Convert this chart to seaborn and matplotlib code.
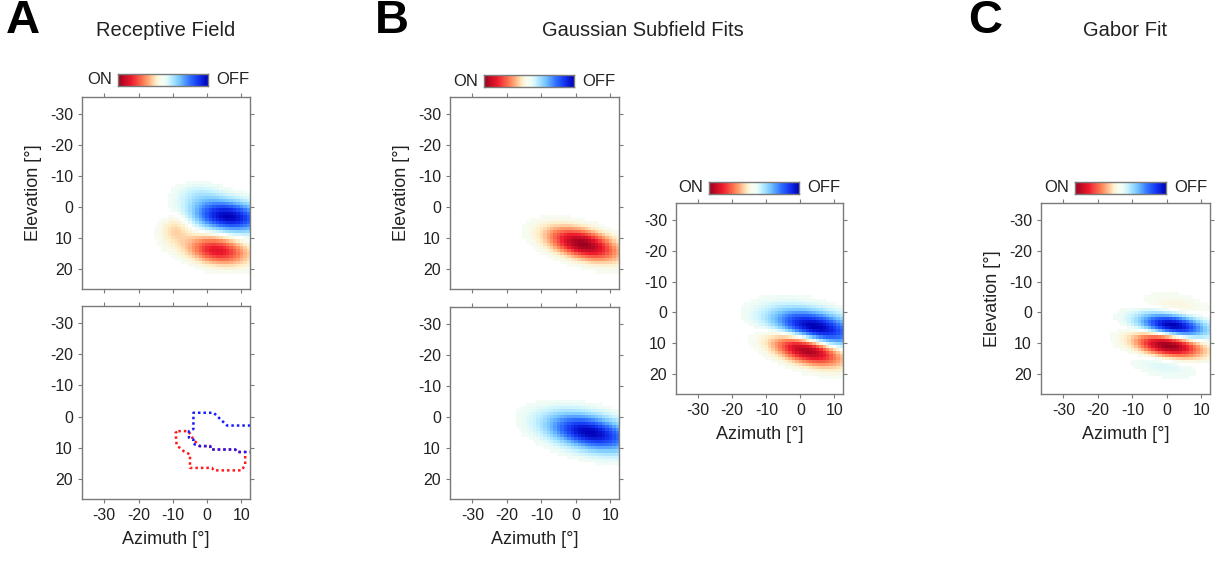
import numpy as np
import pandas as pd
import seaborn as sns
import matplotlib.pyplot as plt
from matplotlib.colors import LinearSegmentedColormap

# Visual field grid (1 deg pixels)
azimuth = np.arange(-36, 13)
elevation = np.arange(-35, 27)

az_ticks = [-30, -20, -10, 0, 10]
el_ticks = [-30, -20, -10, 0, 10, 20]

# Panel A: receptive field, described by its components (OFF > 0, ON < 0)
rf_amp = [1.0, -0.75, -0.22, 0.15]
rf_az = [6, 3, -9, -2]
rf_el = [3, 14, 7, -4]
rf_sig_major = [7.0, 6.0, 3.5, 4.5]
rf_sig_minor = [3.3, 3.0, 3.0, 2.5]
rf_angle = [8, 10, -60, 5]

# Panel A bottom: outlines of the ON / OFF subfields (OFF runs off the right edge)
off_outline_az = [12.6, 5.8, 1.9, -3.5, -4, -4, -5.3, -5.3, -4, -4, -2.2, 0.9, 1.1, 8.2, 8.7, 12.6]
off_outline_el = [2.9, 2.9, -1.2, -1.2, -1.2, 4, 4.7, 6.8, 7.4, 8.8, 9.5, 9.5, 10.6, 10.6, 11.4, 11.4]
on_outline_az = [-8.4, -5.5, -4, -2.2, 0.9, 1.1, 8.2, 8.7, 11.1, 11.1, 10.1, 1.9, 1.4, -5, -5, -6.9, -8.9, -9.2, -8.4]
on_outline_el = [4.7, 4.7, 7.4, 9.5, 9.5, 10.6, 10.6, 11.4, 11.4, 15.4, 17.3, 17.3, 16.5, 16.5, 12.2, 11.1, 9.2, 5.2, 4.7]

# Panel B: Gaussian subfield fits (ON, OFF)
sub_amp = [-1.0, 1.0]
sub_az = [2, 4]
sub_el = [12, 5]
sub_sig_major = [7.0, 8.5]
sub_sig_minor = [3.0, 3.6]
sub_angle = [17, 14]

# Panel C: Gabor fit
gabor_az = 1.0
gabor_el = 7.5
gabor_sig_major = 6.5
gabor_sig_minor = 5.0
gabor_angle = 10
gabor_wavelength = 17.0

cmap = LinearSegmentedColormap.from_list(
    "onoff",
    [
        (0.0, "#9c001f"),
        (0.15, "#ee1a2c"),
        (0.3, "#ff8a5a"),
        (0.42, "#ffedc4"),
        (0.47, "#f8fbf0"),
        (0.5, "#f4fdf4"),
        (0.53, "#eefcf6"),
        (0.58, "#c6f2ff"),
        (0.68, "#78c8ff"),
        (0.8, "#2f70ff"),
        (0.9, "#1232f0"),
        (1.0, "#0000b8"),
    ],
)

plt.rcParams["font.family"] = ["Liberation Sans", "DejaVu Sans"]
FRAME = "#7a7a7a"
TEXT = "#222222"


def rotated(cx, cy, angle):
    X, Y = np.meshgrid(azimuth, elevation)
    t = np.deg2rad(angle)
    xr = (X - cx) * np.cos(t) + (Y - cy) * np.sin(t)
    yr = -(X - cx) * np.sin(t) + (Y - cy) * np.cos(t)
    return xr, yr


def gauss2d(amp, cx, cy, s_major, s_minor, angle):
    xr, yr = rotated(cx, cy, angle)
    return amp * np.exp(-0.5 * (xr**2 / s_major**2 + yr**2 / s_minor**2))


def gabor2d(cx, cy, s_major, s_minor, angle, wavelength):
    xr, yr = rotated(cx, cy, angle)
    env = np.exp(-0.5 * (xr**2 / s_major**2 + yr**2 / s_minor**2))
    return -env * np.sin(2 * np.pi * yr / wavelength)


def to_col(az):
    return np.asarray(az) - azimuth[0] + 0.5


def to_row(el):
    return np.asarray(el) - elevation[0] + 0.5


def draw_field(ax, field, show_x=True, ylabel=None):
    if field is None:
        norm = np.zeros((len(elevation), len(azimuth)))
    else:
        norm = field / np.abs(field).max()
    df = pd.DataFrame(norm, index=elevation, columns=azimuth)
    mask = np.abs(norm) < 0.03
    sns.heatmap(df, ax=ax, cmap=cmap, vmin=-1, vmax=1, cbar=False, mask=mask,
                xticklabels=False, yticklabels=False)
    for s in ax.spines.values():
        s.set_visible(True)
        s.set_color(FRAME)
        s.set_linewidth(1.0)
    ax.set_xticks(to_col(az_ticks))
    ax.set_yticks(to_row(el_ticks))
    ax.set_yticklabels([str(t) for t in el_ticks], rotation=0)
    if show_x:
        ax.set_xticklabels([str(t) for t in az_ticks], rotation=0)
        ax.set_xlabel("Azimuth [°]", fontsize=13, color=TEXT, labelpad=6)
    else:
        ax.set_xticklabels([])
        ax.set_xlabel("")
    ax.set_ylabel(ylabel if ylabel else "", fontsize=13, color=TEXT, labelpad=6)
    ax.tick_params(direction="out", length=3, width=0.8, color=FRAME,
                   labelsize=11.5, labelcolor=TEXT, top=True, right=True)
    ax.set_xlim(0, len(azimuth))
    ax.set_ylim(len(elevation), 0)


def draw_cbar(fig, x0, y0, x1, y1):
    W, H = 1217, 561
    cax = fig.add_axes([x0 / W, 1 - y1 / H, (x1 - x0) / W, (y1 - y0) / H])
    sns.heatmap(np.linspace(-1, 1, 256)[None, :], ax=cax, cmap=cmap, vmin=-1, vmax=1,
                cbar=False, xticklabels=False, yticklabels=False)
    for s in cax.spines.values():
        s.set_visible(True)
        s.set_color(FRAME)
        s.set_linewidth(1.0)
    cax.tick_params(left=False, bottom=False)
    cax.text(-0.07, 0.5, "ON", transform=cax.transAxes, ha="right", va="center",
             fontsize=12, color=TEXT)
    cax.text(1.09, 0.5, "OFF", transform=cax.transAxes, ha="left", va="center",
             fontsize=12, color=TEXT)


def add_axes(fig, x0, y0, x1, y1):
    W, H = 1217, 561
    return fig.add_axes([x0 / W, 1 - y1 / H, (x1 - x0) / W, (y1 - y0) / H])


def main():
    fig = plt.figure(figsize=(12.17, 5.61), dpi=100)

    rf = sum(gauss2d(a, x, y, s1, s2, t) for a, x, y, s1, s2, t in
             zip(rf_amp, rf_az, rf_el, rf_sig_major, rf_sig_minor, rf_angle))
    on_fit = gauss2d(sub_amp[0], sub_az[0], sub_el[0], sub_sig_major[0], sub_sig_minor[0], sub_angle[0])
    off_fit = gauss2d(sub_amp[1], sub_az[1], sub_el[1], sub_sig_major[1], sub_sig_minor[1], sub_angle[1])
    gabor = gabor2d(gabor_az, gabor_el, gabor_sig_major, gabor_sig_minor, gabor_angle, gabor_wavelength)

    # A
    ax = add_axes(fig, 82, 97, 250, 289)
    draw_field(ax, rf, show_x=False, ylabel="Elevation [°]")
    ax = add_axes(fig, 82, 306, 250, 499)
    draw_field(ax, None, show_x=True)
    ax.plot(to_col(on_outline_az), to_row(on_outline_el), ls=(0, (1, 1.2)), color="#ff1a1a", lw=1.8)
    ax.plot(to_col(off_outline_az), to_row(off_outline_el), ls=(0, (1, 1.2)), color="#1a1aff", lw=1.8)
    draw_cbar(fig, 118, 74, 208, 86)

    # B
    ax = add_axes(fig, 450, 97, 619, 289)
    draw_field(ax, on_fit, show_x=False, ylabel="Elevation [°]")
    ax = add_axes(fig, 450, 307, 619, 499)
    draw_field(ax, off_fit, show_x=True)
    ax = add_axes(fig, 676, 203, 843, 394)
    draw_field(ax, on_fit + off_fit, show_x=True)
    draw_cbar(fig, 484, 75, 574, 87)
    draw_cbar(fig, 709, 182, 799, 194)

    # C
    ax = add_axes(fig, 1041, 203, 1210, 394)
    draw_field(ax, gabor, show_x=True, ylabel="Elevation [°]")
    draw_cbar(fig, 1075, 182, 1166, 194)

    # panel letters and titles
    for x, letter in [(23, "A"), (392, "B"), (985, "C")]:
        fig.text(x / 1217, 1 - 21 / 561, letter, ha="center", va="center",
                 fontsize=34, fontweight="bold", color="black")
    for x, title in [(166, "Receptive Field"), (643, "Gaussian Subfield Fits"), (1125, "Gabor Fit")]:
        fig.text(x / 1217, 1 - 30 / 561, title, ha="center", va="center",
                 fontsize=14.5, color=TEXT)

    fig.savefig("out.png", dpi=100, facecolor="white")


if __name__ == "__main__":
    main()
